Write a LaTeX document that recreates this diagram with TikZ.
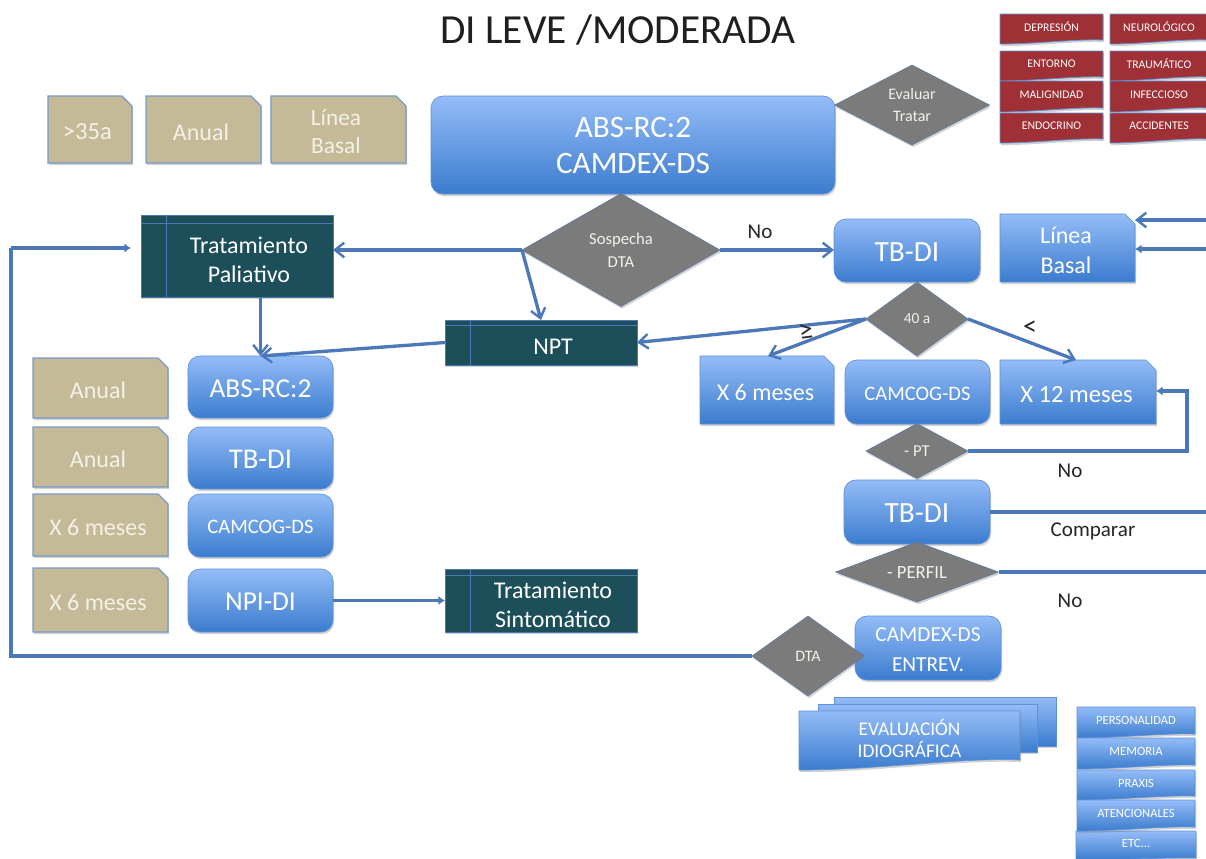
\documentclass[tikz,border=0pt]{standalone}
\usepackage{fontspec}
\setmainfont{Carlito}
\usetikzlibrary{shapes.geometric,shadows,arrows.meta}
\definecolor{lnk}{HTML}{4A78B8}
\definecolor{edgeb}{HTML}{5F92D8}
\definecolor{btop}{HTML}{94BCF8}
\definecolor{bbot}{HTML}{3B7CCE}
\definecolor{tanf}{HTML}{C5BA98}
\definecolor{tealf}{HTML}{1C4F5A}
\definecolor{redf}{HTML}{9F3036}
\definecolor{greyf}{HTML}{7B7B7B}
\definecolor{paletxt}{HTML}{F3F1E8}
\tikzset{
  x=0.75pt,y=-0.75pt,
  shad/.style={drop shadow={opacity=.35,shadow xshift=.8pt,shadow yshift=-1.6pt}},
  base/.style={inner sep=0pt,outer sep=0pt,align=center,text=white},
  bluebox/.style={base,shape=rectangle,rounded corners=9pt,draw=edgeb,line width=.5pt,top color=btop,bottom color=bbot,shad},
  ghost/.style={base,shape=rectangle},
  snipblue/.style={draw=edgeb,line width=.5pt,top color=btop,bottom color=bbot,shad},
  sniptan/.style={draw=lnk!75,line width=.9pt,fill=tanf,shad},
  tealbox/.style={base,shape=rectangle,draw=lnk,line width=.5pt,fill=tealf,shad},
  inner/.style={lnk,line width=.7pt},
  dec/.style={base,diamond,fill=greyf,draw=lnk!70!greyf,line width=.4pt,shad,text=paletxt},
  redpath/.style={fill=redf,draw=edgeb,line width=.6pt,shad},
  bluepath/.style={draw=edgeb,line width=.5pt,top color=btop,bottom color=bbot,shad},
  doclabel/.style={inner sep=0pt,align=center,text=white},
  link/.style={draw=lnk,line width=2.5pt},
  arr/.style={link,-{Straight Barb[length=7pt,width=11pt,line width=1.8pt]}},
  sarr/.style={link,-{Latex[length=5pt,width=7pt]}},
  lbl/.style={inner sep=0pt,text=black!85,font=\fontsize{15.8pt}{17pt}\selectfont},
}
\newcommand\lx{0}\newcommand\ly{0}\newcommand\lc{white}
% style, name, x0, y0, x1, y1, font size pt, leading pt, text
\newcommand\bx[9]{\node[#1,minimum width={(#5-#3)*0.75pt},minimum height={(#6-#4)*0.75pt}] (#2) at ({(#3+#5)/2},{(#4+#6)/2}) {};
  \node[doclabel,text=\lc,font=\fontsize{#7pt}{#8pt}\selectfont] (#2t) at ([shift={(\lx,\ly)}]#2.center) {#9};}
% same arguments: rectangle with its north east corner cut off by 10 px
\newcommand\sn[9]{\path[#1] (#3,#4) -- ({#5-10},#4) -- (#5,{#4+10}) -- (#5,#6) -- (#3,#6) -- cycle;
  \node[ghost,minimum width={(#5-#3)*0.75pt},minimum height={(#6-#4)*0.75pt}] (#2) at ({(#3+#5)/2},{(#4+#6)/2}) {};
  \node[doclabel,text=\lc,font=\fontsize{#7pt}{#8pt}\selectfont] (#2t) at ([shift={(\lx,\ly)}]#2.center) {#9};}
% name, cx, cy, w, h, font size, text
\newcommand\dm[7]{\pgfmathsetmacro\dmasp{#4/#5}\node[dec,shape aspect=\dmasp,minimum width={#4*0.75pt},minimum height={#5*0.75pt},font=\fontsize{#6pt}{\dimexpr#6pt*135/100\relax}\selectfont] (#1) at (#2,#3) {#7};}
% style, name, x0, y0, x1, y1, wave px, font, text
\newcommand\docn[9]{\path[#1] (#3,#4) -- (#5,#4) -- (#5,{#6-#7}) .. controls ({#5-(#5-#3)*.25},{#6-#7*1.3}) and ({#3+(#5-#3)*.35},#6) .. (#3,#6) -- cycle;
  \node[doclabel,font=#8] (#2) at ({(#3+#5)/2},{(#4+#6)/2-2}) {#9};}
\newcommand\redfnt{\fontsize{8.8pt}{10pt}\selectfont\color{white!70!redf}}
\newcommand\smfnt{\fontsize{9.4pt}{10pt}\selectfont\color{white!55!btop}}
\begin{document}
\begin{tikzpicture}
\useasboundingbox (0,0) rectangle (1206,858);
\clip (0,0) rectangle (1206,858);
\fill[white] (0,0) rectangle (1206,858);
\node[inner sep=0pt,text=black!88,font=\fontsize{31pt}{33pt}\selectfont] (title) at (618,30) {DI LEVE /MODERADA};
% red documents
\docn{redpath}{r1}{1000}{14}{1103}{44}{4}{\redfnt}{DEPRESIÓN}
\docn{redpath}{r2}{1110}{14}{1208}{44}{4}{\redfnt}{NEUROLÓGICO}
\docn{redpath}{r3}{1000}{51}{1103}{81}{4}{\redfnt}{ENTORNO}
\docn{redpath}{r4}{1110}{51}{1208}{81}{4}{\redfnt}{TRAUMÁTICO}
\docn{redpath}{r5}{1000}{81}{1103}{112}{4}{\redfnt}{MALIGNIDAD}
\docn{redpath}{r6}{1110}{81}{1208}{112}{4}{\redfnt}{INFECCIOSO}
\docn{redpath}{r7}{1000}{113}{1103}{143}{4}{\redfnt}{ENDOCRINO}
\docn{redpath}{r8}{1110}{113}{1208}{143}{4}{\redfnt}{ACCIDENTES}
% top tan cards
\renewcommand\lx{-2.5}\renewcommand\ly{2.5}\renewcommand\lc{paletxt}
\sn{sniptan}{t1}{48}{96}{132}{163}{18.5}{20}{>35a}
\sn{sniptan}{t2}{146}{96}{261}{163}{18}{20}{Anual}
\sn{sniptan}{t3}{271}{96}{406}{163}{17.5}{21}{Línea\\Basal}
% left tan cards
\sn{sniptan}{a1}{33}{358}{168}{418}{18}{20}{Anual}
\sn{sniptan}{a2}{33}{427}{168}{487}{18}{20}{Anual}
\sn{sniptan}{a3}{33}{494}{168}{556}{18}{20}{X 6 meses}
\sn{sniptan}{a4}{33}{568}{168}{632}{18}{20}{X 6 meses}
% main blocks
\renewcommand\lx{0}\renewcommand\ly{0}\renewcommand\lc{white}
\bx{bluebox}{abs}{431}{96}{835}{194}{23.4}{27}{ABS-RC:2\\CAMDEX-DS}
\renewcommand\ly{1.5}
\dm{eval}{912}{105}{155}{80}{12}{Evaluar\\Tratar}
\dm{sosp}{621}{250}{198}{113}{12.5}{Sospecha\\DTA}
\bx{bluebox}{tb}{834}{219}{980}{282}{22}{24}{TB-DI}
\dm{age}{917}{319}{102}{74}{11.5}{40 a}
\bx{bluebox}{cam}{845}{360}{990}{424}{15.4}{20}{CAMCOG-DS}
\dm{pt}{917}{451}{102}{55}{12.5}{- PT}
\bx{bluebox}{tb2}{844}{480}{990}{544}{22}{24}{TB-DI}
\dm{perfil}{917}{572}{163}{60}{14}{- PERFIL}
\bx{bluebox}{c1}{188}{356}{333}{418}{20.5}{22}{ABS-RC:2}
\bx{bluebox}{c2}{188}{427}{333}{489}{21.5}{22}{TB-DI}
\bx{bluebox}{c3}{188}{494}{333}{557}{15.4}{20}{CAMCOG-DS}
\bx{bluebox}{c4}{188}{569}{333}{632}{20.5}{22}{NPI-DI}
\bx{bluebox}{ent}{855}{616}{1001}{680}{16}{23}{CAMDEX-DS\\ENTREV.}
\dm{dta}{808}{656}{112}{80}{12}{DTA}
% snipped blue cards
\renewcommand\lx{-1.5}\renewcommand\ly{2.5}
\sn{snipblue}{lb}{1000}{214}{1135}{282}{18}{22}{Línea\\Basal}
\sn{snipblue}{x6}{700}{356}{834}{424}{18}{20}{X 6 meses}
\sn{snipblue}{x12}{1000}{360}{1156}{424}{18.5}{20}{X 12 meses}
% teal boxes
\renewcommand\lx{12}\renewcommand\ly{4}
\bx{tealbox}{pal}{141}{215}{333}{297}{18}{21.5}{Tratamiento\\Paliativo}
\draw[inner] ([yshift=-6pt]pal.north west) -- ([yshift=-6pt]pal.north east);
\draw[inner] ([xshift=19pt]pal.north west) -- ([xshift=19pt]pal.south west);
\bx{tealbox}{npt}{445}{320}{637}{365}{18}{20}{NPT}
\draw[inner] ([yshift=-4pt]npt.north west) -- ([yshift=-4pt]npt.north east);
\draw[inner] ([xshift=19pt]npt.north west) -- ([xshift=19pt]npt.south west);
\bx{tealbox}{sint}{445}{569}{637}{632}{18}{21.5}{Tratamiento\\Sintomático}
\draw[inner] ([yshift=-5pt]sint.north west) -- ([yshift=-5pt]sint.north east);
\draw[inner] ([xshift=19pt]sint.north west) -- ([xshift=19pt]sint.south west);
% bottom
\path[bluepath] (834,697) rectangle (1056,746);
\path[bluepath] (818,704) rectangle (1037,752);
\docn{bluepath}{ev}{799}{711}{1020}{770}{10}{\fontsize{14.5pt}{17pt}\selectfont\color{paletxt}}{EVALUACIÓN\\IDIOGRÁFICA}
\docn{bluepath}{s5}{1076}{831}{1196}{860}{2}{\smfnt}{ETC...}
\docn{bluepath}{s1}{1077}{707}{1195}{738}{4}{\smfnt}{PERSONALIDAD}
\docn{bluepath}{s2}{1077}{738}{1195}{769}{4}{\smfnt}{MEMORIA}
\docn{bluepath}{s3}{1077}{770}{1195}{800}{4}{\smfnt}{PRAXIS}
\docn{bluepath}{s4}{1077}{800}{1195}{831}{4}{\smfnt}{ATENCIONALES}
% free ends
\coordinate (palin) at (131,248);
\coordinate (loopa) at (11,656);
\coordinate (loopb) at (11,248);
\coordinate (rt1) at (1206,220);
\coordinate (rt2) at (1206,249);
\coordinate (rt3) at (1206,510);
\coordinate (rt4) at (1206,571);
\coordinate (pta) at (1187,451);
\coordinate (ptb) at (1187,391);
\coordinate (nptin) at (541,320);
\coordinate (x6in) at (768,356);
\coordinate (x12in) at (1076,360);
% connectors
\draw[arr] (sosp.west) -- (pal.east |- sosp.west);
\draw[arr] (sosp.west) -- (nptin);
\draw[arr] (sosp.east) -- (tb.west |- sosp.east);
\draw[arr] (pal.south -| c1.north) -- (c1.north);
\draw[arr] (npt.west) -- (c1.north);
\draw[link] (dta.west) -- (loopa) -- (loopb);
\draw[sarr] (loopb) -- (palin);
\draw[arr] (age.west) -- (npt.east);
\draw[arr] (age.west) -- (x6in);
\draw[arr] (age.east) -- (x12in);
\draw[link,-{Latex[length=5pt,width=7pt]}] (pt.east) -- (pta) -- (ptb) -- (x12.east |- ptb);
\draw[arr] (rt1) -- (lb.east |- rt1);
\draw[sarr] (rt2) -- (lb.east |- rt2);
\draw[link] (tb2.east) -- (tb2.east -| rt3);
\draw[link] (perfil.east) -- (perfil.east -| rt4);
\draw[sarr] (c4.east) -- (sint.west);
% labels
\node[lbl] (no1) at (760,232) {No};
\node[lbl] (no2) at (1070,471) {No};
\node[lbl] (cmp) at (1093,531) {Comparar};
\node[lbl] (no3) at (1070,601) {No};
\node[inner sep=0pt,rotate=8,text=black!85,font=\fontsize{21pt}{21pt}\selectfont] (ge) at (806,332) {≥};
\node[inner sep=0pt,text=black!85,font=\fontsize{21pt}{21pt}\selectfont] (lt) at (1030,328) {<};
\end{tikzpicture}
\end{document}
